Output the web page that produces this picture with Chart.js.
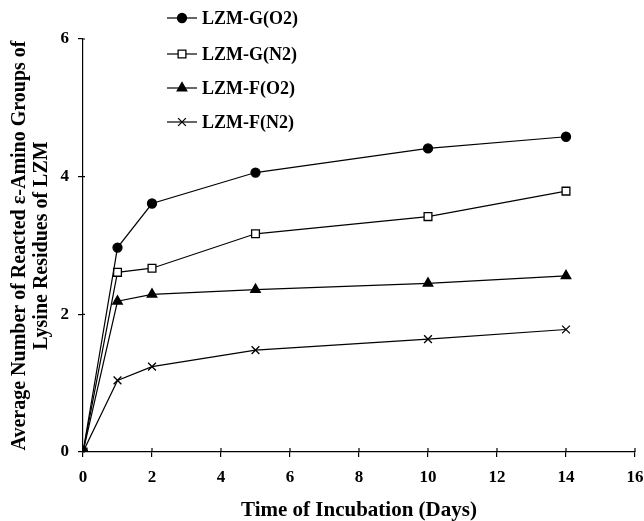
<!DOCTYPE html>
<html>
<head>
<meta charset="utf-8">
<script src="https://cdn.jsdelivr.net/npm/chart.js@4.4.1/dist/chart.umd.min.js"></script>
<style>
  html, body { margin: 0; padding: 0; background: #fff; }
  #wrap { width: 644px; height: 521px; }
</style>
</head>
<body>
<div id="wrap"><canvas id="c" width="644" height="521"></canvas></div>
<script>
// Incubation time (days)
const days = [0, 1, 2, 5, 10, 14];

// Average number of reacted ε-amino groups per series
const lzmGO2 = [0, 2.97, 3.61, 4.06, 4.41, 4.58];
const lzmGN2 = [0, 2.61, 2.67, 3.17, 3.42, 3.79];
const lzmFO2 = [0, 2.19, 2.29, 2.36, 2.45, 2.56];
const lzmFN2 = [0, 1.04, 1.24, 1.48, 1.64, 1.78];

const seriesNames = ['LZM-G(O2)', 'LZM-G(N2)', 'LZM-F(O2)', 'LZM-F(N2)'];

const xTitle = 'Time of Incubation (Days)';
const yTitle = ['Average Number of Reacted \u03b5-Amino Groups of', 'Lysine Residues of LZM'];

const FONT = '"Liberation Serif", "Times New Roman", serif';

function pts(vals) { return days.map((d, i) => ({ x: d, y: vals[i] })); }

const styles = [
  { pointStyle: 'circle',   radius: 4.5, bg: '#000' },
  { pointStyle: 'rect',     radius: 5.5, bg: '#fff' },
  { pointStyle: 'triangle', radius: 5.5, bg: '#000' },
  { pointStyle: 'crossRot', radius: 5.5, bg: '#000' }
];
const allVals = [lzmGO2, lzmGN2, lzmFO2, lzmFN2];

const datasets = allVals.map((v, i) => ({
  label: seriesNames[i],
  data: pts(v),
  showLine: true,
  borderColor: '#000',
  borderWidth: 1.2,
  pointStyle: styles[i].pointStyle,
  pointRadius: styles[i].radius,
  pointBackgroundColor: styles[i].bg,
  pointBorderColor: '#000',
  pointBorderWidth: 1.3,
  tension: 0,
  fill: false
}));

// Ticks that cross the axis line, and the inset legend
const decorations = {
  id: 'decorations',
  afterDraw(chart) {
    const ctx = chart.ctx;
    const xs = chart.scales.x, ys = chart.scales.y;
    ctx.save();
    ctx.strokeStyle = '#000';
    ctx.lineWidth = 1.2;
    xs.ticks.forEach(t => {
      const px = xs.getPixelForValue(t.value);
      ctx.beginPath();
      ctx.moveTo(px, ys.bottom);
      ctx.lineTo(px, ys.bottom - 4);
      ctx.stroke();
    });
    ys.ticks.forEach(t => {
      const py = ys.getPixelForValue(t.value);
      ctx.beginPath();
      ctx.moveTo(xs.left, py);
      ctx.lineTo(xs.left + 2, py);
      ctx.stroke();
    });

    // legend
    const lx0 = 167, lx1 = 197, tx = 202;
    const rows = [18, 54, 88, 122];
    ctx.font = 'bold 18px ' + FONT;
    ctx.textBaseline = 'middle';
    ctx.textAlign = 'left';
    datasets.forEach((ds, i) => {
      const y = rows[i];
      ctx.strokeStyle = '#000';
      ctx.beginPath();
      ctx.moveTo(lx0, y);
      ctx.lineTo(lx1, y);
      ctx.lineWidth = 1.2;
      ctx.stroke();
      ctx.lineWidth = 1.3;
      ctx.fillStyle = ds.pointBackgroundColor;
      Chart.helpers.drawPoint(ctx, {
        pointStyle: ds.pointStyle, radius: ds.pointRadius, rotation: 0, borderWidth: 1.3
      }, (lx0 + lx1) / 2, y);
      ctx.fillStyle = '#000';
      ctx.fillText(ds.label, tx, y + 1);
    });
    ctx.restore();
  }
};

new Chart(document.getElementById('c'), {
  type: 'scatter',
  data: { datasets },
  options: {
    responsive: false,
    animation: false,
    devicePixelRatio: 1,
    layout: { padding: { top: 39, right: 9, bottom: 0, left: 0 } },
    plugins: { legend: { display: false }, tooltip: { enabled: false } },
    scales: {
      x: {
        type: 'linear', min: 0, max: 16,
        afterFit: s => { s.height = 69; s.paddingLeft = 0; s.paddingRight = 0; },
        ticks: { stepSize: 2, color: '#000', padding: 10, font: { family: FONT, size: 17, weight: 'bold' } },
        grid: { drawOnChartArea: false, drawTicks: true, tickLength: 5, color: '#000', lineWidth: 1.2 },
        border: { display: true, color: '#000', width: 1.2 },
        title: { display: true, text: xTitle, color: '#000', padding: { top: 10, bottom: -2 },
                 font: { family: FONT, size: 21, weight: 'bold' } }
      },
      y: {
        type: 'linear', min: 0, max: 6,
        afterFit: s => { s.width = 83; s.paddingTop = 0; s.paddingBottom = 0; },
        ticks: { stepSize: 2, color: '#000', padding: 9, font: { family: FONT, size: 17, weight: 'bold' } },
        grid: { drawOnChartArea: false, drawTicks: true, tickLength: 5, color: '#000', lineWidth: 1.2 },
        border: { display: true, color: '#000', width: 1.2 },
        title: { display: true, text: yTitle, color: '#000', padding: { top: 9, bottom: 0 },
                 font: { family: FONT, size: 20, weight: 'bold', lineHeight: 1.1 } }
      }
    }
  },
  plugins: [decorations]
});
</script>
</body>
</html>
